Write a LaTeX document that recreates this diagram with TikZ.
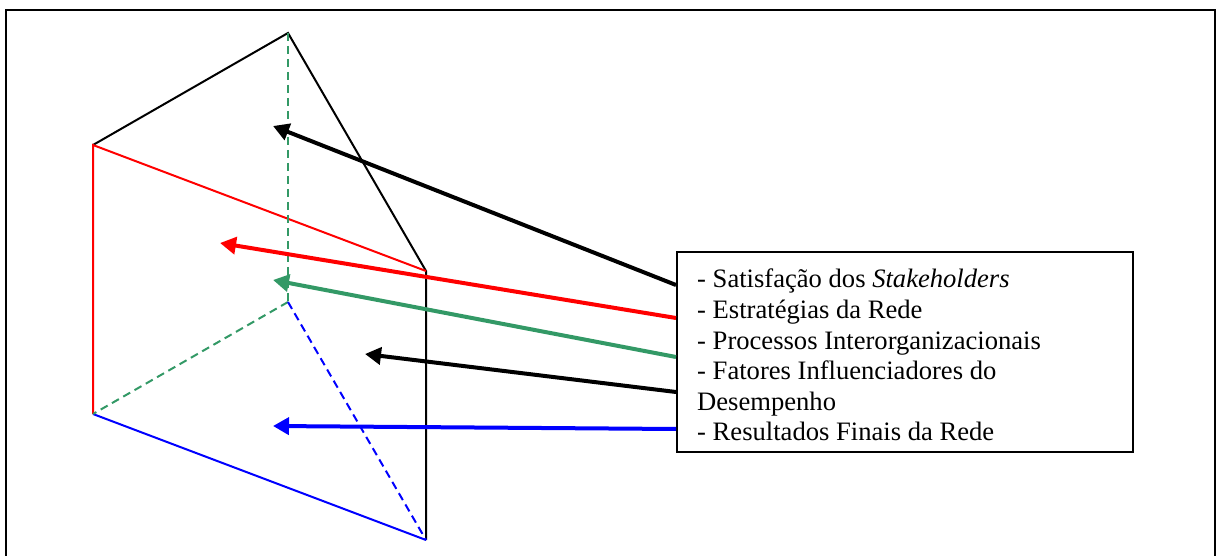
\documentclass[tikz,border=0pt]{standalone}
\usepackage{fontspec}
\setmainfont{Liberation Serif}
\usetikzlibrary{arrows.meta}
\definecolor{sgreen}{RGB}{51,153,102}
\tikzset{
  x=1pt,y=-1pt,
  thin line/.style={line width=2pt},
  dash line/.style={line width=2pt,dash pattern=on 8pt off 5pt},
  arrow line/.style={line width=4pt,-{Triangle[length=16pt,width=17pt]}},
  textbox/.style={draw=black,line width=2pt,fill=white,minimum width=456pt,minimum height=200pt,inner sep=0pt},
  boxtext/.style={anchor=north west,inner sep=0pt,align=left,font=\fontsize{26.6}{30.6}\selectfont}
}
\begin{document}
\begin{tikzpicture}
\useasboundingbox (0,0) rectangle (1216,556);
\coordinate (tl) at (6,10.5);
\coordinate (tr) at (1215,10.5);
\coordinate (bl) at (6,556);
\coordinate (br) at (1215,556);
\draw[line width=2pt] (bl) -- (tl) -- (tr) -- (br);
\coordinate (A) at (288,33);
\coordinate (B) at (93,145);
\coordinate (C) at (426,271);
\coordinate (D) at (93,414);
\coordinate (E) at (288,302);
\coordinate (F) at (426,540);
\draw[thin line] (B) -- (A) -- (C) -- (F);
\draw[thin line,red] (D) -- (B) -- (C);
\draw[thin line,blue] (D) -- (F);
\draw[dash line,sgreen] (A) -- (E);
\draw[dash line,sgreen] (E) -- (D);
\draw[dash line,blue] (E) -- (F);
\node[textbox,anchor=north west] (box) at (676,251) {};
\coordinate (a1s) at (676,285);
\coordinate (a2s) at (676,318);
\coordinate (a3s) at (676,357);
\coordinate (a4s) at (676,392);
\coordinate (a5s) at (676,429);
\coordinate (a1e) at (273,126);
\coordinate (a2e) at (220,243);
\coordinate (a3e) at (273,280);
\coordinate (a4e) at (365,354);
\coordinate (a5e) at (273,426);
\draw[arrow line] (a1s) -- (a1e);
\draw[arrow line,red] (a2s) -- (a2e);
\draw[arrow line,sgreen] (a3s) -- (a3e);
\draw[arrow line] (a4s) -- (a4e);
\draw[arrow line,blue] (a5s) -- (a5e);
\node[boxtext] (txt) at (697,269) {- Satisfação dos \textit{Stakeholders}\\- Estratégias da Rede\\- Processos Interorganizacionais\\- Fatores Influenciadores do\\Desempenho\\- Resultados Finais da Rede};
\end{tikzpicture}
\end{document}
